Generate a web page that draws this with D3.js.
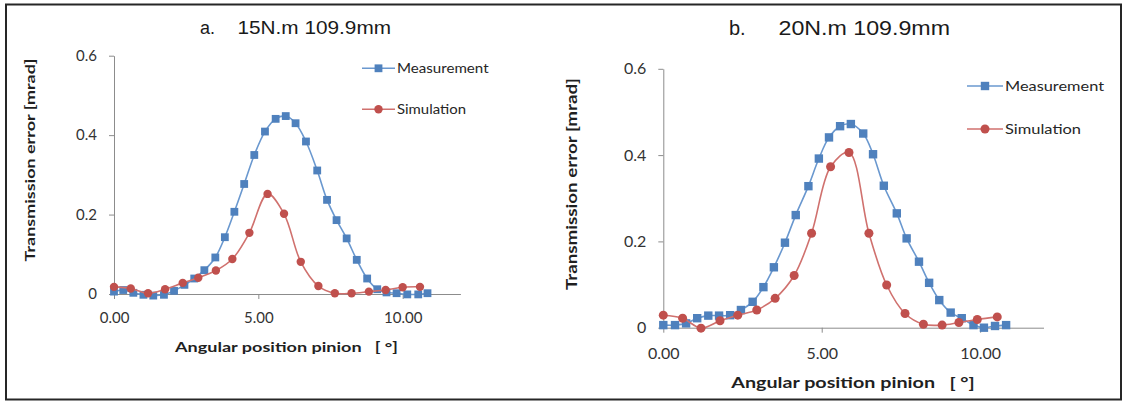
<!DOCTYPE html>
<html>
<head>
<meta charset="utf-8">
<script src="https://cdn.jsdelivr.net/npm/d3@7"></script>
<style>
  body { margin: 0; background: #fff; }
  svg { display: block; }
</style>
</head>
<body>
<div id="chart"></div>
<script>
// Data (angle in degrees, transmission error in mrad)
var xTicks = [0, 5, 10];
var yTicks = [0, 0.2, 0.4, 0.6];
var seriesNames = ["Measurement", "Simulation"];

// a. 15N.m 109.9mm
var measXA = [0, 0.32, 0.67, 1.02, 1.36, 1.73, 2.08, 2.44, 2.78, 3.13, 3.51, 3.84, 4.17, 4.51, 4.86, 5.23,
  5.60, 5.95, 6.29, 6.65, 7.04, 7.38, 7.71, 8.06, 8.41, 8.77, 9.12, 9.44, 9.79, 10.16, 10.54, 10.86];
var measYA = [0.006, 0.010, 0.003, -0.002, -0.004, -0.002, 0.008, 0.023, 0.039, 0.060, 0.092, 0.143, 0.207, 0.277, 0.350, 0.409,
  0.441, 0.448, 0.430, 0.384, 0.311, 0.237, 0.186, 0.140, 0.086, 0.039, 0.012, 0.004, 0.002, -0.001, -0.001, 0.002];
var simXA = [0, 0.58, 1.18, 1.77, 2.38, 2.92, 3.53, 4.10, 4.69, 5.32, 5.89, 6.47, 7.08, 7.65, 8.23, 8.83, 9.41, 10.0, 10.6];
var simYA = [0.018, 0.014, 0.002, 0.012, 0.028, 0.041, 0.059, 0.088, 0.154, 0.252, 0.202, 0.081, 0.020, 0.002, 0.002, 0.006, 0.010, 0.017, 0.018];

// b. 20N.m 109.9mm
var measXB = [0, 0.37, 0.72, 1.07, 1.42, 1.76, 2.11, 2.45, 2.82, 3.16, 3.49, 3.84, 4.18, 4.58, 4.91, 5.23,
  5.58, 5.92, 6.31, 6.62, 6.96, 7.37, 7.68, 8.07, 8.39, 8.71, 9.07, 9.42, 9.79, 10.12, 10.47, 10.82];
var measYB = [0.006, 0.006, 0.010, 0.022, 0.028, 0.028, 0.029, 0.041, 0.060, 0.094, 0.140, 0.197, 0.261, 0.328, 0.392, 0.441,
  0.467, 0.472, 0.450, 0.402, 0.329, 0.265, 0.207, 0.153, 0.104, 0.064, 0.035, 0.022, 0.006, 0.000, 0.004, 0.006];
var simXB = [0, 0.61, 1.19, 1.79, 2.35, 2.95, 3.53, 4.13, 4.68, 5.28, 5.86, 6.49, 7.05, 7.63, 8.21, 8.80, 9.33, 9.91, 10.54];
var simYB = [0.029, 0.022, -0.001, 0.016, 0.029, 0.041, 0.068, 0.121, 0.219, 0.373, 0.406, 0.219, 0.099, 0.033, 0.008, 0.006, 0.012, 0.019, 0.025];

var blue = "#4f81bd", blueLine = "#6a98cf";
var red = "#c0504d", redLine = "#d0716e";
var labelFont = "Lato, 'Open Sans', sans-serif";
var titleFont = "'Liberation Sans', Arial, sans-serif";

var svg = d3.select("#chart").append("svg")
  .attr("width", 1127)
  .attr("height", 402);

// outer frame
svg.append("rect")
  .attr("x", 6).attr("y", 4.5)
  .attr("width", 1115).attr("height", 395)
  .attr("fill", "none")
  .attr("stroke", "#262626")
  .attr("stroke-width", 2);

function zip(xs, ys) {
  return xs.map(function (d, i) { return { x: d, y: ys[i] }; });
}

function drawPanel(p) {
  var x = d3.scaleLinear().domain([0, 12]).range(p.xRange);
  var y = d3.scaleLinear().domain([0, 0.6]).range(p.yRange);
  var g = svg.append("g");

  // axes
  var xAxis = g.append("g")
    .attr("transform", "translate(0," + p.yRange[0] + ")")
    .call(d3.axisBottom(x).tickValues(xTicks).tickSize(5).tickSizeOuter(0)
      .tickPadding(p.xPad).tickFormat(d3.format(".2f")));
  var yAxis = g.append("g")
    .attr("transform", "translate(" + p.xRange[0] + ",0)")
    .call(d3.axisLeft(y).tickValues(yTicks).tickSize(5).tickSizeOuter(0)
      .tickPadding(p.yPad).tickFormat(function (d) { return d === 0 ? "0" : d3.format(".1f")(d); }));

  [xAxis, yAxis].forEach(function (a) {
    a.select(".domain").attr("stroke", "#8c8c8c");
    a.selectAll(".tick line").attr("stroke", "#8c8c8c");
    a.selectAll(".tick text")
      .attr("fill", "#333")
      .style("font-family", labelFont)
      .style("font-size", p.tickSize + "px");
  });

  // title
  g.append("text")
    .attr("x", p.titleX1).attr("y", p.titleY)
    .style("font-family", titleFont).style("font-size", p.titleSize + "px")
    .attr("fill", "#1a1a1a")
    .text(p.tag);
  g.append("text")
    .attr("x", p.titleX2).attr("y", p.titleY)
    .attr("textLength", p.titleLen).attr("lengthAdjust", "spacingAndGlyphs")
    .style("font-family", titleFont).style("font-size", p.titleSize + "px")
    .attr("fill", "#1a1a1a")
    .text(p.title);

  // axis titles
  g.append("text")
    .attr("transform", "translate(" + p.yLabel[0] + "," + p.yLabel[1] + ") rotate(-90)")
    .attr("text-anchor", "middle")
    .attr("dy", "0.35em")
    .attr("textLength", p.yLabelLen).attr("lengthAdjust", "spacingAndGlyphs")
    .style("font-family", labelFont).style("font-weight", "bold").style("font-size", p.axisSize + "px")
    .attr("fill", "#1f1f1f")
    .text("Transmission error [mrad]");
  g.append("text")
    .attr("x", p.xLabel[0]).attr("y", p.xLabel[1])
    .attr("text-anchor", "middle")
    .attr("dy", "0.35em")
    .attr("textLength", p.xLabelLen).attr("lengthAdjust", "spacingAndGlyphs")
    .style("font-family", labelFont).style("font-weight", "bold").style("font-size", p.axisSize + "px")
    .style("white-space", "pre")
    .attr("fill", "#1f1f1f")
    .text("Angular position pinion   [ \u00b0]");

  var line = d3.line()
    .x(function (d) { return x(d.x); })
    .y(function (d) { return y(d.y); })
    .curve(d3.curveCatmullRom.alpha(0.5));

  var meas = zip(p.measX, p.measY);
  var sim = zip(p.simX, p.simY);

  // measurement: line + squares
  g.append("path").datum(meas)
    .attr("d", line)
    .attr("fill", "none").attr("stroke", blueLine).attr("stroke-width", 1.6);
  g.selectAll(".sq").data(meas).enter().append("rect")
    .attr("class", "sq")
    .attr("x", function (d) { return x(d.x) - p.mk / 2; })
    .attr("y", function (d) { return y(d.y) - p.mk / 2; })
    .attr("width", p.mk).attr("height", p.mk)
    .attr("fill", blue);

  // simulation: line + circles
  g.append("path").datum(sim)
    .attr("d", line)
    .attr("fill", "none").attr("stroke", redLine).attr("stroke-width", 1.6);
  g.selectAll(".ci").data(sim).enter().append("circle")
    .attr("class", "ci")
    .attr("cx", function (d) { return x(d.x); })
    .attr("cy", function (d) { return y(d.y); })
    .attr("r", p.mk / 2 + 0.3)
    .attr("fill", red);

  // legend
  var leg = g.append("g");
  seriesNames.forEach(function (name, i) {
    var ly = p.legY[i];
    var col = i === 0 ? blue : red;
    leg.append("line")
      .attr("x1", p.legX[0]).attr("x2", p.legX[1])
      .attr("y1", ly).attr("y2", ly)
      .attr("stroke", i === 0 ? blueLine : redLine).attr("stroke-width", 1.6);
    var cx = (p.legX[0] + p.legX[1]) / 2;
    if (i === 0) {
      leg.append("rect")
        .attr("x", cx - p.mk / 2).attr("y", ly - p.mk / 2)
        .attr("width", p.mk).attr("height", p.mk)
        .attr("fill", col);
    } else {
      leg.append("circle")
        .attr("cx", cx).attr("cy", ly).attr("r", p.mk / 2 + 0.3)
        .attr("fill", col);
    }
    leg.append("text")
      .attr("x", p.legX[1] + 2).attr("y", ly)
      .attr("dy", "0.35em")
      .attr("textLength", p.legLen[i]).attr("lengthAdjust", "spacingAndGlyphs")
      .style("font-family", labelFont).style("font-size", p.legSize + "px")
      .attr("fill", "#262626")
      .text(name);
  });
}

drawPanel({
  xRange: [114, 460.4], yRange: [294, 55.7],
  xPad: 13.5, yPad: 12, tickSize: 15,
  tag: "a.", title: "15N.m 109.9mm", titleX1: 200, titleX2: 237.5, titleY: 34, titleLen: 153.5, titleSize: 18,
  yLabel: [30, 160], yLabelLen: 203, xLabel: [286.5, 346.7], xLabelLen: 223, axisSize: 14,
  measX: measXA, measY: measYA, simX: simXA, simY: simYA, mk: 7.8,
  legX: [362, 395], legY: [68.3, 109.3], legLen: [91.6, 69], legSize: 12.5
});

drawPanel({
  xRange: [663.3, 1043.5], yRange: [327.7, 68.8],
  xPad: 14.5, yPad: 12, tickSize: 16,
  tag: "b.", title: "20N.m 109.9mm", titleX1: 729, titleX2: 778.5, titleY: 35, titleLen: 171.5, titleSize: 20,
  yLabel: [571.5, 184], yLabelLen: 212, xLabel: [853, 383], xLabelLen: 243.5, axisSize: 15,
  measX: measXB, measY: measYB, simX: simXB, simY: simYB, mk: 8.4,
  legX: [967, 1003], legY: [86, 129], legLen: [99, 76], legSize: 13.5
});
</script>
</body>
</html>
